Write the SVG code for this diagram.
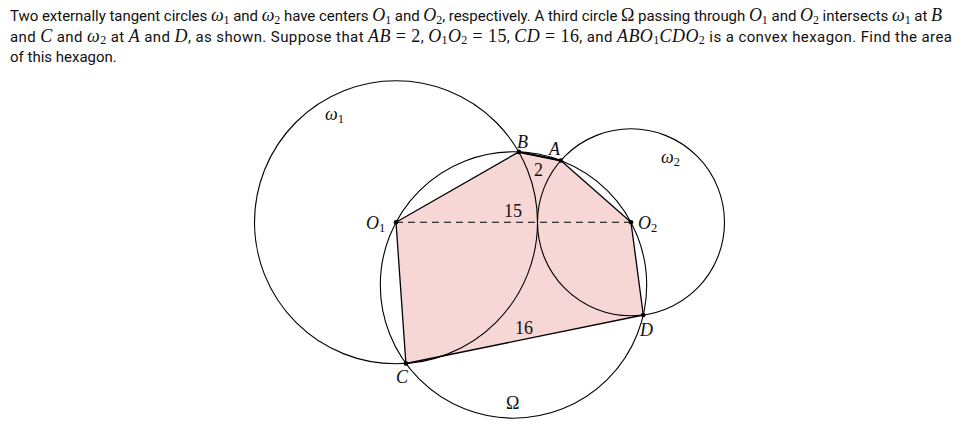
<svg xmlns="http://www.w3.org/2000/svg" width="980" height="427" viewBox="0 0 980 427">
<style>
.t{font-family:Roboto,"Liberation Sans",sans-serif;font-size:15px;fill:#111}
.m{font-family:"Liberation Serif",serif;font-style:italic;font-size:18px}
.n{font-family:"Liberation Serif",serif;font-size:18px}
.s{font-family:"Liberation Serif",serif;font-size:12px}
.circ{fill:none;stroke:#000;stroke-width:1.1}
.lbl{font-family:"Liberation Serif",serif;font-style:italic;font-size:18px;fill:#111}
.num{font-family:"Liberation Serif",serif;font-size:18px;fill:#111}
.sb{font-family:"Liberation Serif",serif;font-size:12.5px;fill:#111}
.dot{fill:#000}
</style>
<rect width="980" height="427" fill="#fff"/>
<g id="problem-text">
<text class="t" x="10" y="21" textLength="932" lengthAdjust="spacing">Two externally tangent circles <tspan class="m">ω</tspan><tspan class="s" dy="2.5">1</tspan><tspan dy="-2.5"> and </tspan><tspan class="m">ω</tspan><tspan class="s" dy="2.5">2</tspan><tspan dy="-2.5"> have centers </tspan><tspan class="m">O</tspan><tspan class="s" dy="2.5">1</tspan><tspan dy="-2.5"> and </tspan><tspan class="m">O</tspan><tspan class="s" dy="2.5">2</tspan><tspan dy="-2.5">, respectively. A third circle </tspan><tspan class="n">Ω</tspan> passing through <tspan class="m">O</tspan><tspan class="s" dy="2.5">1</tspan><tspan dy="-2.5"> and </tspan><tspan class="m">O</tspan><tspan class="s" dy="2.5">2</tspan><tspan dy="-2.5"> intersects </tspan><tspan class="m">ω</tspan><tspan class="s" dy="2.5">1</tspan><tspan dy="-2.5"> at </tspan><tspan class="m">B</tspan></text>
<text class="t" x="10" y="41.5" textLength="942" lengthAdjust="spacing">and <tspan class="m">C</tspan> and <tspan class="m">ω</tspan><tspan class="s" dy="2.5">2</tspan><tspan dy="-2.5"> at </tspan><tspan class="m">A</tspan> and <tspan class="m">D</tspan>, as shown. Suppose that <tspan class="m">AB</tspan><tspan class="n"> = 2</tspan>, <tspan class="m">O</tspan><tspan class="s" dy="2.5">1</tspan><tspan class="m" dy="-2.5">O</tspan><tspan class="s" dy="2.5">2</tspan><tspan class="n" dy="-2.5"> = 15</tspan>, <tspan class="m">CD</tspan><tspan class="n"> = 16</tspan>, and <tspan class="m">ABO</tspan><tspan class="s" dy="2.5">1</tspan><tspan class="m" dy="-2.5">CDO</tspan><tspan class="s" dy="2.5">2</tspan><tspan dy="-2.5"> is a convex hexagon. Find the area</tspan></text>
<text class="t" x="10" y="62">of this hexagon.</text>
</g>
<g id="hexagon">
<polygon points="560.8,160.5 518.8,151.9 396,222.3 405.9,363.5 643.3,315 631,222.3" fill="#f7d6d6" stroke="none"/>
</g>
<g id="omega1"><circle class="circ" cx="396" cy="222.3" r="141.5"/></g>
<g id="omega2"><circle class="circ" cx="631" cy="222.3" r="93.5"/></g>
<g id="Omega"><circle class="circ" cx="513.5" cy="285" r="133.2"/></g>
<g id="connectors">
<polygon points="560.8,160.5 518.8,151.9 396,222.3 405.9,363.5 643.3,315 631,222.3" fill="none" stroke="#000" stroke-width="1.3" stroke-linejoin="round"/>
<line x1="518.8" y1="151.9" x2="560.8" y2="160.5" stroke="#000" stroke-width="2"/>
<line x1="396" y1="222.3" x2="631" y2="222.3" stroke="#000" stroke-width="1.1" stroke-dasharray="7,5"/>
</g>
<g id="points">
<circle class="dot" cx="560.8" cy="160.5" r="2.3"/>
<circle class="dot" cx="518.8" cy="151.9" r="2.3"/>
<circle class="dot" cx="396" cy="222.3" r="2.3"/>
<circle class="dot" cx="405.9" cy="363.5" r="2.3"/>
<circle class="dot" cx="643.3" cy="315" r="2.3"/>
<circle class="dot" cx="631" cy="222.3" r="2.3"/>
</g>
<g id="labels">
<text class="lbl" x="325" y="120">ω<tspan class="sb" dy="3" font-style="normal">1</tspan></text>
<text class="lbl" x="661" y="163">ω<tspan class="sb" dy="3" font-style="normal">2</tspan></text>
<text class="lbl" x="517" y="148">B</text>
<text class="lbl" x="549" y="155">A</text>
<text class="num" x="534" y="176">2</text>
<text class="num" x="504" y="217">15</text>
<text class="lbl" x="366" y="229">O<tspan class="sb" dy="3" font-style="normal">1</tspan></text>
<text class="lbl" x="638" y="229">O<tspan class="sb" dy="3" font-style="normal">2</tspan></text>
<text class="num" x="515" y="334">16</text>
<text class="lbl" x="640" y="336">D</text>
<text class="lbl" x="396" y="383">C</text>
<text class="num" x="506" y="409">Ω</text>
</g>
</svg>
